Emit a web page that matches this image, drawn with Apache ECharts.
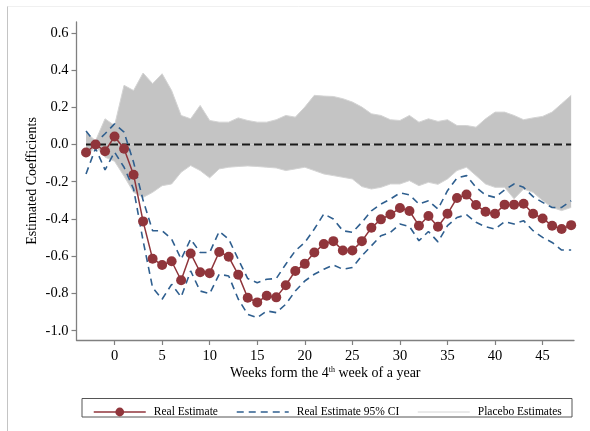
<!DOCTYPE html>
<html>
<head>
<meta charset="utf-8">
<script src="https://cdn.jsdelivr.net/npm/echarts@6/dist/echarts.min.js"></script>
<style>
html,body{margin:0;padding:0;background:#fff;}
#chart{width:590px;height:431px;}
</style>
</head>
<body>
<div id="chart"></div>
<script>
// ---- data ----
const weeks = [-3,-2,-1,0,1,2,3,4,5,6,7,8,9,10,11,12,13,14,15,16,17,18,19,20,21,22,23,24,25,26,27,28,29,30,31,32,33,34,35,36,37,38,39,40,41,42,43,44,45,46,47,48];

const realEstimate = [-0.043,0.000,-0.036,0.043,-0.023,-0.162,-0.413,-0.614,-0.647,-0.627,-0.729,-0.585,-0.686,-0.691,-0.577,-0.603,-0.699,-0.823,-0.848,-0.812,-0.821,-0.756,-0.679,-0.641,-0.580,-0.535,-0.519,-0.569,-0.569,-0.519,-0.447,-0.402,-0.376,-0.341,-0.357,-0.436,-0.384,-0.442,-0.372,-0.287,-0.269,-0.325,-0.361,-0.372,-0.323,-0.323,-0.318,-0.372,-0.397,-0.436,-0.454,-0.433];

const ciUpper = [0.072,0.008,0.058,0.111,0.066,-0.095,-0.300,-0.463,-0.463,-0.508,-0.616,-0.508,-0.580,-0.580,-0.467,-0.508,-0.616,-0.720,-0.742,-0.724,-0.720,-0.643,-0.571,-0.526,-0.454,-0.373,-0.400,-0.463,-0.472,-0.418,-0.356,-0.320,-0.293,-0.260,-0.270,-0.320,-0.302,-0.347,-0.248,-0.180,-0.167,-0.230,-0.271,-0.284,-0.244,-0.212,-0.230,-0.280,-0.311,-0.338,-0.338,-0.302];

const ciLower = [-0.158,-0.020,-0.136,-0.041,-0.122,-0.239,-0.517,-0.769,-0.831,-0.751,-0.819,-0.679,-0.787,-0.801,-0.697,-0.706,-0.830,-0.912,-0.930,-0.894,-0.903,-0.858,-0.787,-0.733,-0.697,-0.670,-0.647,-0.670,-0.661,-0.598,-0.544,-0.490,-0.472,-0.427,-0.440,-0.517,-0.467,-0.523,-0.436,-0.392,-0.377,-0.418,-0.442,-0.454,-0.415,-0.427,-0.409,-0.463,-0.499,-0.526,-0.567,-0.567];

// envelope of the placebo estimates (upper / lower edge of the grey band)
const placeboUpper = [0.066,0.020,0.138,0.102,0.318,0.290,0.384,0.327,0.380,0.290,0.156,0.138,0.210,0.129,0.120,0.120,0.143,0.129,0.120,0.120,0.133,0.156,0.147,0.201,0.264,0.260,0.258,0.246,0.228,0.201,0.165,0.156,0.133,0.129,0.156,0.120,0.138,0.124,0.133,0.102,0.102,0.093,0.138,0.174,0.174,0.156,0.133,0.143,0.151,0.174,0.219,0.264];
const placeboLower = [-0.068,-0.010,-0.068,-0.090,-0.170,-0.257,-0.284,-0.257,-0.221,-0.212,-0.149,-0.113,-0.140,-0.179,-0.131,-0.122,-0.118,-0.115,-0.118,-0.122,-0.126,-0.140,-0.131,-0.122,-0.140,-0.158,-0.167,-0.176,-0.185,-0.226,-0.239,-0.230,-0.212,-0.212,-0.194,-0.221,-0.203,-0.214,-0.185,-0.140,-0.122,-0.167,-0.212,-0.230,-0.230,-0.292,-0.239,-0.257,-0.301,-0.338,-0.355,-0.338];

const xTicks = [0,5,10,15,20,25,30,35,40,45];
const yTicks = [-1.0,-0.8,-0.6,-0.4,-0.2,0.0,0.2,0.4,0.6];

// ---- chart ----
const FONT = 'Liberation Serif';
const pair = arr => weeks.map((w, i) => [w, arr[i]]);
const zeroLine = weeks.map(w => [w, 0]);
const BAND = '#c4c4c4';
const EDGE = '#d4d4d4';

const chart = echarts.init(document.getElementById('chart'), null, {renderer: 'canvas'});
chart.setOption({
  animation: false,
  backgroundColor: '#ffffff',
  grid: {left: 76.5, right: 16, top: 22, bottom: 91, containLabel: false},
  xAxis: {
    type: 'value', min: -4, max: 48.3,
    name: 'Weeks form the 4{sup|th} week of a year',
    nameLocation: 'middle', nameGap: 26, nameMoveOverlap: false,
    nameTextStyle: {fontFamily: FONT, fontSize: 14, color: '#000',
      rich: {sup: {fontFamily: FONT, fontSize: 8, verticalAlign: 'top', lineHeight: 10, padding: [0, 0, 5, 0]}}},
    axisLine: {show: true, onZero: false, lineStyle: {color: '#808080', width: 1.3}},
    axisTick: {show: true, length: 5, customValues: xTicks, lineStyle: {color: '#808080', width: 1.2}},
    axisLabel: {customValues: xTicks, margin: 9, fontFamily: FONT, fontSize: 14.5, color: '#000'},
    splitLine: {show: false}
  },
  yAxis: {
    type: 'value', min: -1.05, max: 0.658,
    name: 'Estimated Coefficients',
    nameLocation: 'middle', nameGap: 37, nameRotate: 90, nameMoveOverlap: false,
    nameTextStyle: {fontFamily: FONT, fontSize: 14, color: '#000'},
    axisLine: {show: true, onZero: false, lineStyle: {color: '#808080', width: 1.3}},
    axisTick: {show: true, length: 5, customValues: yTicks, lineStyle: {color: '#808080', width: 1.2}},
    axisLabel: {customValues: yTicks, margin: 8, fontFamily: FONT, fontSize: 14.5, color: '#000',
      formatter: v => v.toFixed(1)},
    splitLine: {show: false}
  },
  legend: {
    left: 88, top: 401,
    itemWidth: 52, itemHeight: 11, itemGap: 18,
    selectedMode: false,
    lineStyle: {width: 'inherit'},
    textStyle: {fontFamily: FONT, fontSize: 11.5, color: '#000', padding: [0, 0, 0, 3]},
    data: ['Real Estimate', 'Real Estimate 95% CI', 'Placebo Estimates']
  },
  graphic: [
    {type: 'line', shape: {x1: 7.5, y1: 6, x2: 7.5, y2: 431}, style: {stroke: '#c4c4c4', lineWidth: 1}, silent: true},
    {type: 'line', shape: {x1: 7.5, y1: 6.5, x2: 590, y2: 6.5}, style: {stroke: '#f0f0f0', lineWidth: 1}, silent: true},
    {type: 'rect', shape: {x: 82, y: 398.5, width: 490, height: 18.5}, style: {fill: 'none', stroke: '#555', lineWidth: 1}, silent: true}
  ],
  series: [
    {type: 'line', name: 'placebo band upper', data: pair(placeboUpper), symbol: 'none',
      lineStyle: {width: 0, opacity: 0}, areaStyle: {color: BAND, opacity: 1, origin: 0}, silent: true, z: 1},
    {type: 'line', name: 'placebo band lower', data: pair(placeboLower), symbol: 'none',
      lineStyle: {width: 0, opacity: 0}, areaStyle: {color: BAND, opacity: 1, origin: 0}, silent: true, z: 1},
    {type: 'line', name: 'Placebo Estimates', data: pair(placeboUpper), symbol: 'none',
      lineStyle: {color: EDGE, width: 1}, itemStyle: {color: EDGE, opacity: 0}, z: 2},
    {type: 'line', name: 'Placebo Estimates', data: pair(placeboLower), symbol: 'none',
      lineStyle: {color: EDGE, width: 1}, itemStyle: {color: EDGE, opacity: 0}, z: 2},
    {type: 'line', name: 'zero', data: zeroLine, symbol: 'none',
      lineStyle: {color: '#1a1a1a', width: 1.8, type: [8, 4]}, z: 3},
    {type: 'line', name: 'Real Estimate 95% CI', data: pair(ciUpper), symbol: 'none',
      lineStyle: {color: '#2f5f8f', width: 1.6, type: [7, 5]}, itemStyle: {color: '#2f5f8f', opacity: 0}, z: 4},
    {type: 'line', name: 'Real Estimate 95% CI', data: pair(ciLower), symbol: 'none',
      lineStyle: {color: '#2f5f8f', width: 1.6, type: [7, 5]}, itemStyle: {color: '#2f5f8f', opacity: 0}, z: 4},
    {type: 'line', name: 'Real Estimate', data: pair(realEstimate), symbol: 'circle', symbolSize: 10,
      lineStyle: {color: '#90353b', width: 1.5}, itemStyle: {color: '#90353b'}, z: 5}
  ]
});
</script>
</body>
</html>
